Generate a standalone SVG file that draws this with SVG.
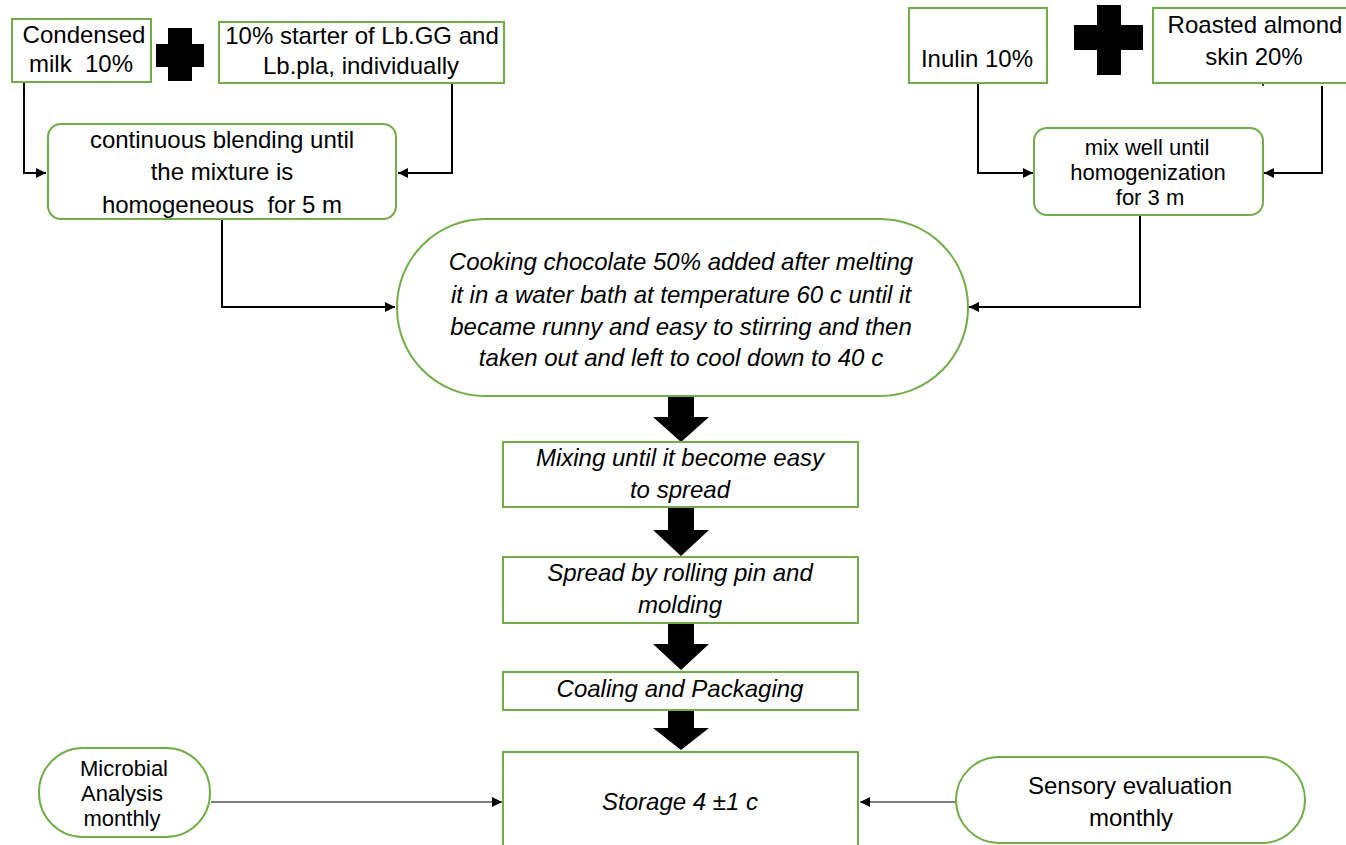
<svg xmlns="http://www.w3.org/2000/svg" width="1346" height="845" viewBox="0 0 1346 845">
<style>
.box{fill:#fff;stroke:#70AD47;stroke-width:2}
.t{font-family:"Liberation Sans",Arial,sans-serif;font-size:24px;fill:#000;text-anchor:middle}
.s{font-size:22px}
.i{font-style:italic}
.c{fill:none;stroke:#000;stroke-width:2}
.c1{fill:none;stroke:#000;stroke-width:1.2}
.blk{fill:#000}
</style>
<defs>
<marker id="ah2" viewBox="0 0 10 10" refX="10" refY="5" markerWidth="10" markerHeight="10" markerUnits="userSpaceOnUse" orient="auto"><path d="M0,0L10,5L0,10z" fill="#000"/></marker>
</defs>
<rect width="1346" height="845" fill="#fff"/>
<g id="connectors">
<path class="c" d="M24,82V173H46" marker-end="url(#ah2)"/>
<path class="c" d="M452,83V173H398" marker-end="url(#ah2)"/>
<path class="c" d="M222,219V307H395" marker-end="url(#ah2)"/>
<path class="c" d="M978,83V173H1033" marker-end="url(#ah2)"/>
<path class="c" d="M1322,86V173H1264" marker-end="url(#ah2)"/>
<path class="c" d="M1140,215V307H969" marker-end="url(#ah2)"/>
<path class="c1" d="M211,802H502" marker-end="url(#ah2)"/>
<path class="c1" d="M956,802H860" marker-end="url(#ah2)"/>
<polygon class="blk" points="668,396 694,396 694,417 709,417 681,442 653,417 668,417"/>
<polygon class="blk" points="668,507 694,507 694,530 709,530 681,556 653,530 668,530"/>
<polygon class="blk" points="668,623 694,623 694,644 709,644 681,670 653,644 668,644"/>
<polygon class="blk" points="668,710 694,710 694,728 709,728 681,750 653,728 668,728"/>
<circle cx="1263" cy="85" r="1" fill="#000"/>
</g>
<g id="condensed">
<rect class="box" x="12" y="19" width="139" height="63"/>
<text class="t" x="84" y="43">Condensed</text>
<text class="t" x="81" y="72" xml:space="preserve">milk  10%</text>
</g>
<g id="plus-left">
<path class="blk" d="M168,28H192V44H204V67H192V81H168V67H156V44H168z"/>
</g>
<g id="starter">
<rect class="box" x="219" y="22" width="285" height="61"/>
<text class="t" x="362" y="44">10% starter of Lb.GG and</text>
<text class="t" x="361" y="74">Lb.pla, individually</text>
</g>
<g id="blending">
<rect class="box" x="48" y="124" width="348" height="95" rx="13"/>
<text class="t" x="222" y="148">continuous blending until</text>
<text class="t" x="222" y="180">the mixture is</text>
<text class="t" x="222" y="213" xml:space="preserve">homogeneous  for 5 m</text>
</g>
<g id="inulin">
<rect class="box" x="909" y="8" width="138" height="75"/>
<text class="t" x="977" y="67">Inulin 10%</text>
</g>
<g id="plus-right">
<path class="blk" d="M1097,5H1121V25H1143V50H1121V75H1097V50H1074V25H1097z"/>
</g>
<g id="almond">
<rect class="box" x="1153" y="8" width="200" height="75"/>
<text class="t" x="1255" y="33">Roasted almond</text>
<text class="t" x="1254" y="65">skin 20%</text>
</g>
<g id="mixwell">
<rect class="box" x="1034" y="128" width="229" height="87" rx="13"/>
<text class="t s" x="1147" y="155">mix well until</text>
<text class="t s" x="1148" y="180">homogenization</text>
<text class="t s" x="1150" y="205">for 3 m</text>
</g>
<g id="cooking">
<rect class="box" x="397" y="219" width="571" height="177" rx="88"/>
<text class="t i" x="681" y="270">Cooking chocolate 50% added after melting</text>
<text class="t i" x="681" y="303">it in a water bath at temperature 60 c until it</text>
<text class="t i" x="681" y="335">became runny and easy to stirring and then</text>
<text class="t i" x="681" y="366">taken out and left to cool down to 40 c</text>
</g>
<g id="mixing">
<rect class="box" x="503" y="442" width="355" height="65"/>
<text class="t i" x="680" y="466">Mixing until it become easy</text>
<text class="t i" x="680" y="498">to spread</text>
</g>
<g id="spread">
<rect class="box" x="503" y="557" width="355" height="66"/>
<text class="t i" x="680" y="581">Spread by rolling pin and</text>
<text class="t i" x="680" y="613">molding</text>
</g>
<g id="coaling">
<rect class="box" x="503" y="672" width="355" height="38"/>
<text class="t i" x="680" y="697">Coaling and Packaging</text>
</g>
<g id="storage">
<rect class="box" x="503" y="752" width="355" height="110"/>
<text class="t i" x="680" y="810">Storage 4 ±1 c</text>
</g>
<g id="microbial">
<rect class="box" x="39" y="748" width="171" height="89" rx="44"/>
<text class="t s" x="124" y="776">Microbial</text>
<text class="t s" x="122" y="801">Analysis</text>
<text class="t s" x="122" y="826">monthly</text>
</g>
<g id="sensory">
<rect class="box" x="956" y="757" width="349" height="86" rx="43"/>
<text class="t" x="1130" y="794">Sensory evaluation</text>
<text class="t" x="1131" y="826">monthly</text>
</g>
</svg>
